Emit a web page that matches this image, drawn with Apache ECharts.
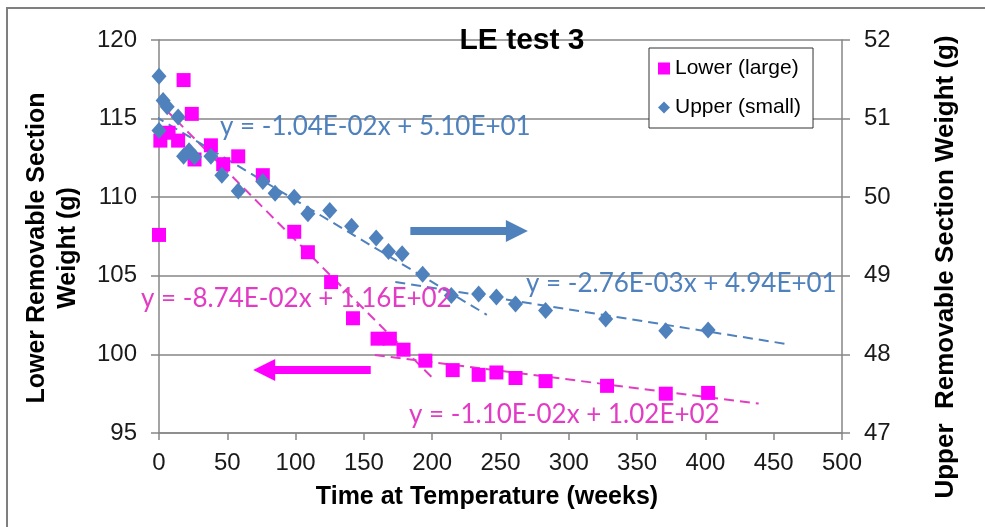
<!DOCTYPE html>
<html>
<head>
<meta charset="utf-8">
<title>LE test 3</title>
<script src="https://cdn.jsdelivr.net/npm/echarts@6/dist/echarts.min.js"></script>
<style>
  html, body { margin: 0; padding: 0; background: #fff; }
  #chart { width: 985px; height: 527px; }
</style>
</head>
<body>
<div id="chart"></div>
<script>
// 下部（大）试样重量，左轴
const lowerWeeks = [0, 1, 7, 14, 18, 24, 26, 38, 47, 58, 76, 99, 109, 126, 142, 160, 169, 179, 195, 215, 234, 247, 261, 283, 328, 371, 402]
const lowerWeight = [107.6, 113.6, 114.1, 113.6, 117.45, 115.3, 112.4, 113.3, 112.1, 112.6, 111.4, 107.8, 106.5, 104.6, 102.3, 101.0, 101.0, 100.3, 99.6, 99.0, 98.7, 98.85, 98.5, 98.3, 98.0, 97.5, 97.55]

// 上部（小）试样重量，右轴
const upperWeeks = [0, 3, 6, 14, 0, 18, 22, 26, 38, 46, 58, 76, 85, 99, 109, 125, 141, 159, 168, 178, 193, 214, 234, 247, 261, 283, 327, 371, 402]
const upperWeight = [51.54, 51.23, 51.15, 51.02, 50.85, 50.52, 50.59, 50.51, 50.52, 50.28, 50.08, 50.2, 50.05, 50.0, 49.79, 49.83, 49.63, 49.48, 49.31, 49.28, 49.02, 48.75, 48.77, 48.73, 48.64, 48.56, 48.45, 48.30, 48.31]

// 趋势线 [斜率, 截距] 和 x 范围
const lowerFitSteep = [-0.0874, 116.0]
const lowerFitSteepRange = [-4, 201]
const lowerFitFlat = [-0.0110, 101.7]
const lowerFitFlatRange = [158, 439]
const upperFitSteep = [-0.0104, 51.0]
const upperFitSteepRange = [-3, 240]
const upperFitFlat = [-0.00276, 49.4]
const upperFitFlatRange = [173, 461]

// 坐标轴刻度
const xTicks = [0, 500, 50]
const leftTicks = [95, 120, 5]
const rightTicks = [47, 52, 1]

const PINK = '#ff00ff'
const PINK_TEXT = '#e23cc4'
const BLUE = '#4f81bd'
const AXIS_GRAY = '#868686'

const pairs = (xs, ys) => xs.map((x, i) => [x, ys[i]])
const fitLine = (fit, range) => range.map(x => [x, fit[0] * x + fit[1]])

const chart = echarts.init(document.getElementById('chart'))

const trend = (name, fit, range, color, yIdx) => ({
  name: name,
  type: 'line',
  yAxisIndex: yIdx,
  data: fitLine(fit, range),
  symbol: 'none',
  clip: false,
  silent: true,
  z: 1,
  lineStyle: { color: color, width: 2, type: [10, 6] }
})

const eqText = (text, x, y, color) => ({
  type: 'text',
  left: x,
  top: y - 16,
  z: 20,
  style: { text: text, fill: color, font: '26px Lato', textVerticalAlign: 'top' }
})

const optionData = {
  backgroundColor: '#fff',
  animation: false,
  textStyle: { fontFamily: 'Liberation Sans' },
  grid: { left: 159, right: 143, top: 40, bottom: 94, containLabel: false },
  legend: {
    left: 649,
    top: 48,
    orient: 'vertical',
    backgroundColor: '#fff',
    borderColor: '#333',
    borderWidth: 1,
    borderRadius: 0,
    padding: [10, 12, 10, 9],
    itemGap: 18,
    itemWidth: 12,
    itemHeight: 12,
    z: 10,
    textStyle: { fontSize: 21, color: '#000', fontFamily: 'Liberation Sans' },
    data: [
      { name: 'Lower (large)', icon: 'rect' },
      { name: 'Upper (small)', icon: 'diamond' }
    ]
  },
  xAxis: {
    type: 'value',
    min: xTicks[0],
    max: xTicks[1],
    interval: xTicks[2],
    axisLine: { lineStyle: { color: AXIS_GRAY, width: 1.5 } },
    axisTick: { show: true, length: 7, lineStyle: { color: AXIS_GRAY, width: 1.5 } },
    axisLabel: { fontSize: 24, color: '#1a1a1a', margin: 18 },
    splitLine: { show: false }
  },
  yAxis: [
    {
      type: 'value',
      min: leftTicks[0],
      max: leftTicks[1],
      interval: leftTicks[2],
      axisLine: { show: true, lineStyle: { color: AXIS_GRAY, width: 1.5 } },
      axisTick: { show: true, length: 8, lineStyle: { color: AXIS_GRAY, width: 1.5 } },
      axisLabel: { fontSize: 24, color: '#1a1a1a', margin: 22 },
      splitLine: { show: true, lineStyle: { color: AXIS_GRAY, width: 1.5 } }
    },
    {
      type: 'value',
      position: 'right',
      min: rightTicks[0],
      max: rightTicks[1],
      interval: rightTicks[2],
      axisLine: { show: true, lineStyle: { color: AXIS_GRAY, width: 1.5 } },
      axisTick: { show: true, length: 8, lineStyle: { color: AXIS_GRAY, width: 1.5 } },
      axisLabel: { fontSize: 24, color: '#1a1a1a', margin: 22 },
      splitLine: { show: false }
    }
  ],
  graphic: [
    // 外框
    { type: 'polyline', z: 0, shape: { points: [[7, 527], [7, 8], [985, 8]] }, style: { stroke: '#7f7f7f', lineWidth: 2, fill: null } },
    // 标题
    { type: 'text', x: 522, y: 41, z: 20, style: { text: 'LE test 3', font: 'bold 30px Liberation Sans', fill: '#000', textAlign: 'center', textVerticalAlign: 'middle' } },
    // 坐标轴名称
    { type: 'text', x: 487, y: 497, style: { text: 'Time at Temperature (weeks)', font: 'bold 25px Liberation Sans', fill: '#000', textAlign: 'center', textVerticalAlign: 'middle' } },
    { type: 'text', x: 53, y: 248, rotation: Math.PI / 2, style: { text: 'Lower Removable Section\nWeight (g)', font: 'bold 25px Liberation Sans', lineHeight: 31, fill: '#000', textAlign: 'center', textVerticalAlign: 'middle' } },
    { type: 'text', x: 946, y: 267, rotation: Math.PI / 2, style: { text: 'Upper  Removable Section Weight (g)', font: 'bold 26px Liberation Sans', fill: '#000', textAlign: 'center', textVerticalAlign: 'middle' } },
    // 趋势线方程
    eqText('y = -1.04E-02x + 5.10E+01', 220, 130, BLUE),
    eqText('y = -8.74E-02x + 1.16E+02', 141, 302, PINK_TEXT),
    eqText('y = -2.76E-03x + 4.94E+01', 526, 287, BLUE),
    eqText('y = -1.10E-02x + 1.02E+02', 409, 418, PINK_TEXT)
  ],
  series: [
    trend('fit1', lowerFitSteep, lowerFitSteepRange, PINK_TEXT, 0),
    trend('fit2', lowerFitFlat, lowerFitFlatRange, PINK_TEXT, 0),
    trend('fit3', upperFitSteep, upperFitSteepRange, BLUE, 1),
    trend('fit4', upperFitFlat, upperFitFlatRange, BLUE, 1),
    {
      name: 'Lower (large)',
      type: 'scatter',
      yAxisIndex: 0,
      symbol: 'rect',
      symbolSize: 14,
      z: 3,
      itemStyle: { color: PINK, opacity: 1 },
      data: pairs(lowerWeeks, lowerWeight),
      // 指向所属坐标轴的箭头
      markLine: {
        silent: true,
        symbol: ['none', 'triangle'],
        symbolSize: [22, 22],
        label: { show: false },
        data: [
          [{ coord: [184, 107.85], lineStyle: { color: BLUE, width: 8, type: 'solid' }, itemStyle: { color: BLUE } },
            { coord: [262, 107.85] }],
          [{ coord: [155, 99.0], lineStyle: { color: PINK, width: 8, type: 'solid' }, itemStyle: { color: PINK } },
            { coord: [77, 99.0] }]
        ]
      }
    },
    {
      name: 'Upper (small)',
      type: 'scatter',
      yAxisIndex: 1,
      symbol: 'diamond',
      symbolSize: [15, 17],
      z: 4,
      itemStyle: { color: BLUE, opacity: 1 },
      data: pairs(upperWeeks, upperWeight)
    }
  ]
}

chart.setOption(optionData)
</script>
</body>
</html>
